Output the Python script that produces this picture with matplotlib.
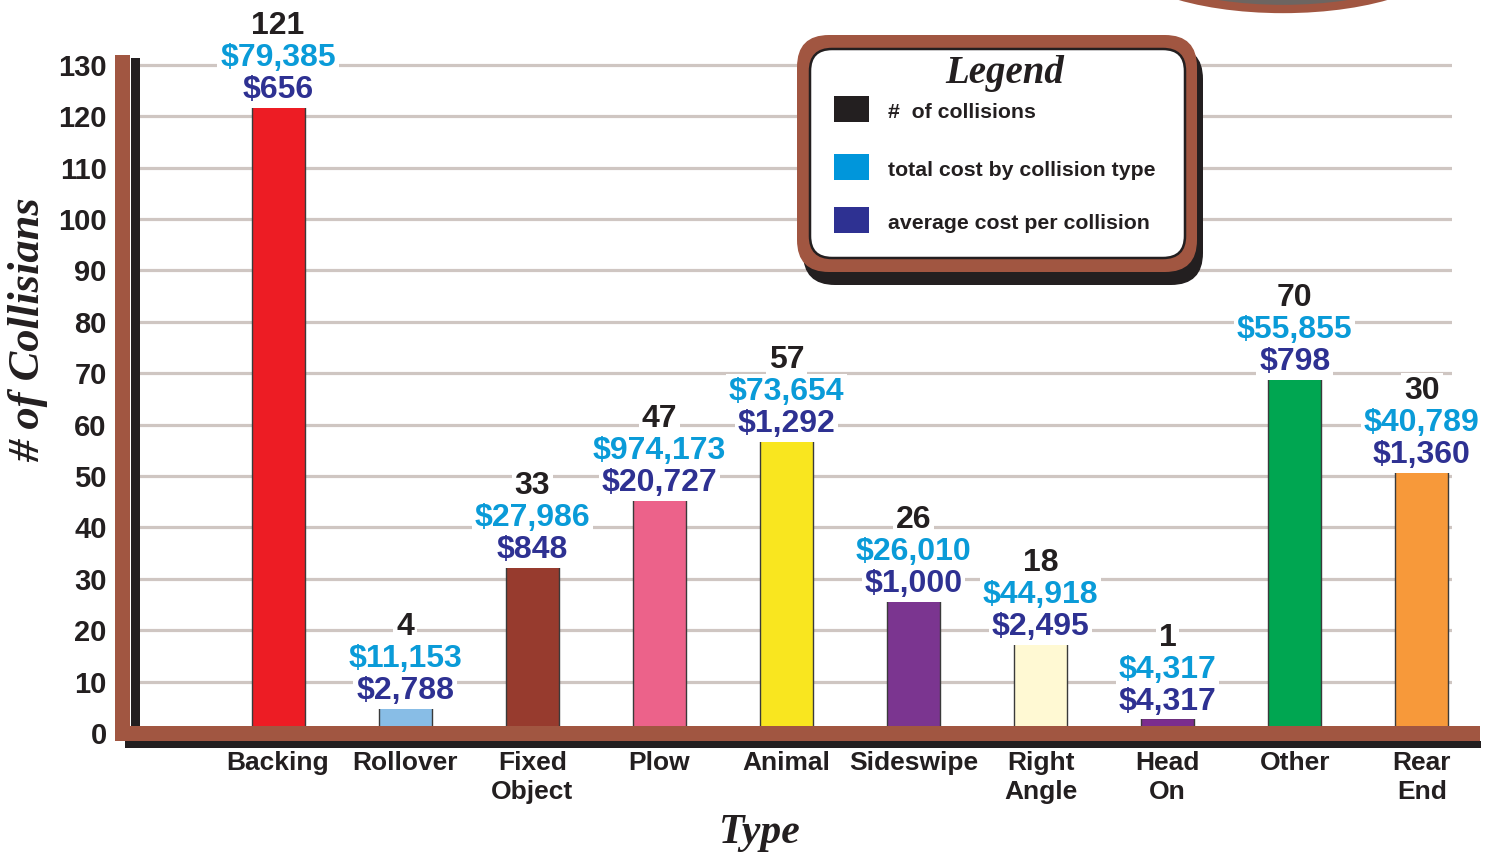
import matplotlib
matplotlib.use("Agg")
import matplotlib.pyplot as plt
from matplotlib.patches import Rectangle, FancyBboxPatch, Ellipse

# ---- data ----
categories = ["Backing", "Rollover", "Fixed\nObject", "Plow", "Animal", "Sideswipe",
              "Right\nAngle", "Head\nOn", "Other", "Rear\nEnd"]
bar_heights = [122, 5, 32.5, 45.5, 57, 25.8, 17.5, 3, 69, 51]
count_labels = ["121", "4", "33", "47", "57", "26", "18", "1", "70", "30"]
total_cost_labels = ["$79,385", "$11,153", "$27,986", "$974,173", "$73,654",
                     "$26,010", "$44,918", "$4,317", "$55,855", "$40,789"]
avg_cost_labels = ["$656", "$2,788", "$848", "$20,727", "$1,292",
                   "$1,000", "$2,495", "$4,317", "$798", "$1,360"]
bar_colors = ["#ed1c24", "#88bde6", "#973b2e", "#ec628a", "#f9e61f",
              "#7b3590", "#fff9d3", "#7b2d8e", "#00a651", "#f7993a"]
y_ticks = list(range(0, 131, 10))
legend_labels = ["#  of collisions", "total cost by collision type", "average cost per collision"]

BROWN = "#a15641"
DARK = "#231f20"
BLUE = "#0a9bd8"
NAVY = "#2e3192"
GRID = "#cfc6c2"

plt.rcParams['font.family'] = ['Liberation Sans', 'DejaVu Sans']
SERIF = ["Liberation Serif", "DejaVu Serif"]

W, H = 1486, 857
fig = plt.figure(figsize=(W / 100, H / 100), dpi=100)
fig.patch.set_facecolor("white")

ax_left, ax_right, ax_top, ax_bot = 140, 1452, 55, 733
ax = fig.add_axes([ax_left / W, (H - ax_bot) / H, (ax_right - ax_left) / W, (ax_bot - ax_top) / H])
ax.set_facecolor("white")

x = list(range(len(categories)))
ax.bar(x, bar_heights, width=0.417, color=bar_colors, edgecolor="#3a3a3a", linewidth=1.0, zorder=2)

ax.set_xlim(-1.086, 9.237)
ax.set_ylim(0, 131.9)
ax.set_yticks(y_ticks)
ax.set_yticklabels([str(t) for t in y_ticks], fontsize=21, fontweight="bold", color=DARK)
ax.set_xticks(x)
ax.set_xticklabels(categories, fontsize=19, fontweight="bold", color=DARK, linespacing=1.25)
ax.tick_params(axis="y", length=0, pad=24)
ax.tick_params(axis="x", length=0, pad=13)
ax.yaxis.grid(True, color=GRID, linewidth=2.3)
ax.xaxis.grid(False)
ax.set_axisbelow(True)
for s in ax.spines.values():
    s.set_visible(False)

offsets = [57.6, 34.6, 11.5]
FS = 23
for xi, h, c, t, a in zip(x, bar_heights, count_labels, total_cost_labels, avg_cost_labels):
    for txt, off in zip([c, t, a], offsets):
        # white mask behind text to interrupt gridlines
        ax.annotate(txt, (xi, h), xytext=(0, off), textcoords="offset points",
                    ha="center", va="center", fontsize=FS, fontweight="bold", color="white",
                    bbox=dict(fc="white", ec="none", pad=2.0), zorder=3)
    for txt, off, col in zip([c, t, a], offsets, [DARK, BLUE, NAVY]):
        ax.annotate(txt, (xi, h), xytext=(0, off), textcoords="offset points",
                    ha="center", va="center", fontsize=FS, fontweight="bold", color=col, zorder=4)

# ---- overlay in pixel coordinates for decorations ----
ov = fig.add_axes([0, 0, 1, 1], zorder=5)
ov.set_xlim(0, W)
ov.set_ylim(H, 0)
ov.axis("off")
ov.patch.set_alpha(0)

# walls and floor
ov.add_patch(Rectangle((115, 55), 15, 686, color=BROWN, lw=0))
ov.add_patch(Rectangle((131, 58), 9, 668, color=DARK, lw=0))
ov.add_patch(Rectangle((125, 741), 1356, 7, color=DARK, lw=0))
ov.add_patch(Rectangle((115, 726), 1365, 15, color=BROWN, lw=0))

# top-right decoration
ov.add_patch(Ellipse((1283, -50), 330, 118, facecolor="#6d6561", edgecolor=BROWN, lw=6))

# legend box
ov.add_patch(FancyBboxPatch((803, 47), 400, 238, boxstyle="round,pad=0,rounding_size=32",
                            facecolor=DARK, edgecolor="none"))
ov.add_patch(FancyBboxPatch((797, 35), 400, 237, boxstyle="round,pad=0,rounding_size=32",
                            facecolor=BROWN, edgecolor="none"))
ov.add_patch(FancyBboxPatch((810, 49), 375, 209, boxstyle="round,pad=0,rounding_size=22",
                            facecolor="white", edgecolor=DARK, lw=1.8))
ov.text(1005, 73, "Legend", ha="center", va="center", fontsize=28, fontweight="bold",
        fontstyle="italic", family=SERIF, color=DARK)
for yc, col, lab in zip([109, 167, 220], [DARK, "#0096db", NAVY], legend_labels):
    ov.add_patch(Rectangle((834, yc - 13), 35, 26, color=col, lw=0))
    ov.text(888, yc + 3, lab, ha="left", va="center", fontsize=15.3, fontweight="bold", color=DARK)

# axis titles
ov.text(760, 833, "Type", ha="center", va="center", fontsize=30, fontweight="bold",
        fontstyle="italic", family=SERIF, color=DARK)
ov.text(28, 330, "# of Collisians", ha="center", va="center", rotation=90, fontsize=32,
        fontweight="bold", fontstyle="italic", family=SERIF, color=DARK)

fig.savefig("out.png", dpi=100, facecolor="white")
